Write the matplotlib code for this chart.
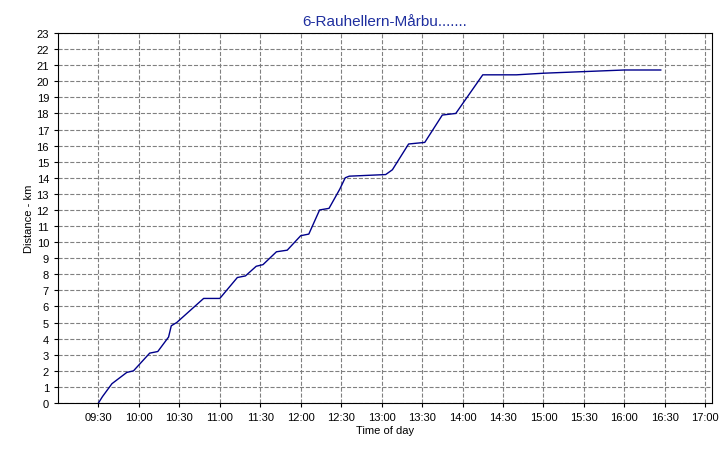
import matplotlib
matplotlib.use("Agg")
import matplotlib.pyplot as plt
import matplotlib.dates as mdates
from datetime import datetime

times = ["09:30","09:33","09:40","09:51","09:56","10:08","10:14","10:22","10:24","10:28",
         "10:48","11:00","11:05","11:13","11:19","11:27","11:32","11:42","11:50","12:00","12:06",
         "12:14","12:21","12:29","12:33","12:36","13:03","13:08","13:20","13:32","13:45",
         "13:55","14:15","14:40","15:00","15:30","16:00","16:27"]
km = [0.0,0.4,1.2,1.9,2.0,3.1,3.2,4.1,4.8,5.0,
      6.5,6.5,7.0,7.8,7.9,8.5,8.6,9.4,9.5,10.4,10.5,
      12.0,12.1,13.3,14.0,14.1,14.2,14.5,16.1,16.2,17.9,
      18.0,20.4,20.4,20.5,20.6,20.7,20.7]
xticks = ["09:30","10:00","10:30","11:00","11:30","12:00","12:30","13:00","13:30","14:00",
          "14:30","15:00","15:30","16:00","16:30","17:00"]

def t(s):
    return datetime.strptime("2020-01-01 " + s, "%Y-%m-%d %H:%M")

plt.rcParams['font.family'] = ['Liberation Sans', 'DejaVu Sans']
fig = plt.figure(figsize=(7.27, 4.52), dpi=100)
ax = fig.add_axes([58/727, 1-404/452, (712-58)/727, (404-34)/452])
ax.plot([t(s) for s in times], km, color='#00008B', lw=1)
ax.set_xlim(t("09:00"), t("17:05"))
ax.set_ylim(0, 23)
ax.set_yticks(range(0, 24))
ax.set_xticks([t(s) for s in xticks])
ax.xaxis.set_major_formatter(mdates.DateFormatter("%H:%M"))
ax.tick_params(labelsize=8, length=3)
ax.grid(True, color='#808080', ls='--', lw=0.8)
ax.set_xlabel("Time of day", fontsize=8, labelpad=2)
ax.set_ylabel("Distance - km", fontsize=8, labelpad=2)
ax.set_title("6-Rauhellern-Mårbu.......", color='#1F2F9F', fontsize=11, pad=6)
fig.savefig("out.png", dpi=100)
